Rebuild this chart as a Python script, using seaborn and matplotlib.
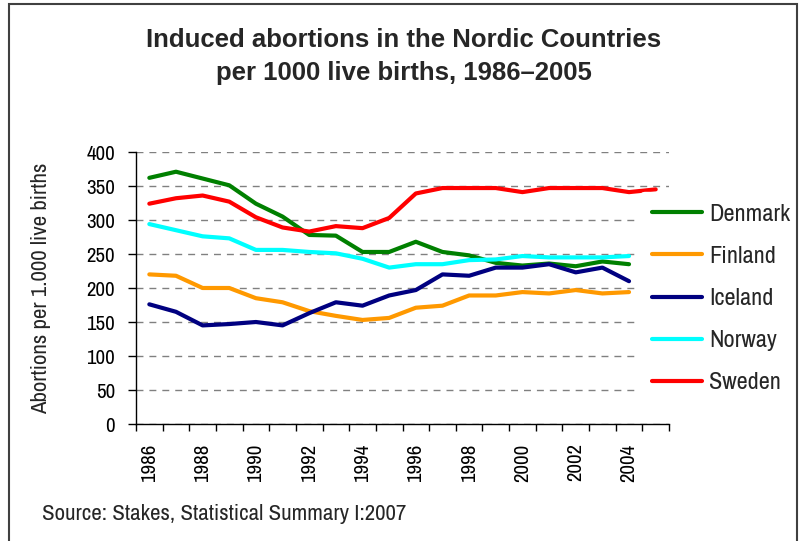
import numpy as np
import pandas as pd
import matplotlib
matplotlib.use('Agg')
import matplotlib.pyplot as plt
from matplotlib import font_manager as fm
from matplotlib.lines import Line2D
from matplotlib.patches import Rectangle
import seaborn as sns

# Data (per 1000 live births)
years = list(range(1986, 2006))
countries = ['Denmark', 'Finland', 'Iceland', 'Norway', 'Sweden']
denmark = [362, 371, 361, 351, 324, 305, 278, 277, 253, 253, 268, 253, 248, 237, 233, 236, 232, 239, 235, np.nan]
finland = [220, 218, 200, 200, 185, 179, 166, 159, 153, 156, 171, 174, 189, 189, 194, 192, 197, 192, 194, np.nan]
iceland = [176, 165, 145, 147, 150, 145, 163, 179, 174, 189, 197, 220, 218, 230, 230, 235, 223, 230, 210, np.nan]
norway = [294, 285, 276, 273, 256, 256, 253, 251, 243, 230, 235, 235, 241, 242, 247, 245, 245, 245, 247, np.nan]
sweden = [324, 332, 336, 327, 304, 289, 283, 291, 288, 303, 339, 347, 347, 347, 341, 347, 347, 347, 341, 345]
colors = ['#008000', '#FF9900', '#000080', '#00FFFF', '#FF0000']
y_ticks = list(range(0, 401, 50))
x_labels = list(range(1986, 2005, 2))

df = pd.DataFrame({
    'year': years * 5,
    'country': np.repeat(countries, len(years)),
    'value': denmark + finland + iceland + norway + sweden,
}).dropna()
palette = dict(zip(countries, colors))

# the original uses a narrow sans; take one if there is any, else plain Liberation Sans a bit smaller
narrow_fam, narrow_stretch = None, 'normal'
for f in fm.fontManager.ttflist:
    if ('Narrow' in f.name or 'Condensed' in f.name) and f.weight in (400, 'normal', 'regular'):
        narrow_fam = f.name
        break
if narrow_fam is None:
    for f in fm.fontManager.ttflist:
        if f.stretch in ('condensed', 'semi-condensed') and f.weight in (400, 'normal', 'regular'):
            narrow_fam, narrow_stretch = f.name, f.stretch
            break

sns.set_style('white')
if narrow_fam is not None:
    plt.rcParams['font.family'] = [narrow_fam, 'Liberation Sans', 'DejaVu Sans']
    plt.rcParams['font.stretch'] = narrow_stretch
    sizes = {'tick': 15, 'ylab': 16.5, 'leg': 17.5, 'src': 16.5}
else:
    plt.rcParams['font.family'] = ['Liberation Sans', 'DejaVu Sans']
    sizes = {'tick': 13.5, 'ylab': 14, 'leg': 15, 'src': 13.5}

fig = plt.figure(figsize=(8.07, 5.41), dpi=100)
ax = fig.add_axes([136 / 807, 1 - 424 / 541, 533 / 807, 272 / 541])

sns.lineplot(data=df, x='year', y='value', hue='country', hue_order=countries,
             palette=palette, linewidth=3, legend=False, ax=ax)

ax.set_xlim(1985.5, 2005.5)
ax.set_ylim(0, 400)
ax.set_yticks(y_ticks)
ax.set_xticks(x_labels)
ax.set_xticklabels([str(y) for y in x_labels], rotation=90)
ax.set_xticks(np.arange(1985.5, 2006, 1), minor=True)
ax.tick_params(axis='x', which='major', length=0, pad=14, labelsize=sizes['tick'], colors='black')
ax.tick_params(axis='x', which='minor', length=5, width=1, direction='out', color='black', bottom=True)
ax.tick_params(axis='y', which='major', length=6, width=1, direction='out', pad=9,
               labelsize=sizes['tick'], colors='black', left=True)
ax.set_xlabel('')
ax.set_ylabel('Abortions per 1.000 live births', fontsize=sizes['ylab'])
ax.yaxis.set_label_coords(-0.16, 0.5)

ax.yaxis.grid(True, color='#808080', linestyle=(0, (5, 4.3)), linewidth=1.0)
ax.xaxis.grid(False)
ax.set_axisbelow(True)
for side in ['top', 'right']:
    ax.spines[side].set_visible(False)
for side in ['left', 'bottom']:
    ax.spines[side].set_color('black')
    ax.spines[side].set_linewidth(1.0)
    ax.spines[side].set_zorder(3)

handles = [Line2D([], [], color=c, linewidth=3) for c in colors]
leg = fig.legend(handles, countries, loc='center left', bbox_to_anchor=(640 / 807, 1 - 298.5 / 541),
                 frameon=True, fontsize=sizes['leg'], handlelength=50 / (sizes['leg'] * 1.389),
                 handletextpad=0.3, labelspacing=0.87, borderpad=0.5, borderaxespad=0,
                 framealpha=1)
leg.get_frame().set_facecolor('white')
leg.get_frame().set_edgecolor('white')

fig.text(0.5, 1 - 40 / 541, 'Induced abortions in the Nordic Countries', ha='center', va='center',
         fontsize=18.5, fontweight='bold', family=['Liberation Sans', 'DejaVu Sans'], fontstretch='normal')
fig.text(0.5, 1 - 73 / 541, 'per 1000 live births, 1986\u20132005', ha='center', va='center',
         fontsize=18.5, fontweight='bold', family=['Liberation Sans', 'DejaVu Sans'], fontstretch='normal')
fig.text(42 / 807, 1 - 514 / 541, 'Source: Stakes, Statistical Summary I:2007', ha='left', va='center',
         fontsize=sizes['src'])

fig.add_artist(Rectangle((9 / 807, -0.05), (797 - 9) / 807, 1.05 - 4 / 541,
                         transform=fig.transFigure, fill=False, edgecolor='#404040',
                         linewidth=1.5, zorder=20))

fig.savefig('out.png', dpi=100, facecolor='white')
